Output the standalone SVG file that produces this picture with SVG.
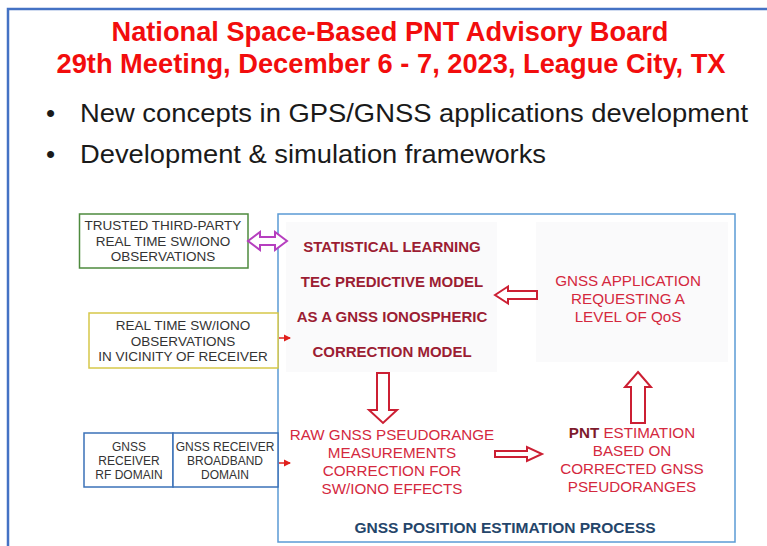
<svg xmlns="http://www.w3.org/2000/svg" width="767" height="546" viewBox="0 0 767 546">
<style>
.title{font-family:"Liberation Sans Narrow","Liberation Sans",Arial,sans-serif;font-weight:bold;font-size:28px;fill:#f20d0d;text-anchor:middle}
.bul{font-family:"Liberation Sans",Arial,sans-serif;font-size:26px;fill:#1a1a1a}
.box{font-family:"Liberation Sans",Arial,sans-serif;font-size:13.5px;fill:#333;text-anchor:middle}
.small{font-family:"Liberation Sans",Arial,sans-serif;font-size:12px;fill:#333;text-anchor:middle}
.stat{font-family:"Liberation Sans",Arial,sans-serif;font-size:15px;font-weight:bold;fill:#9c1d33;text-anchor:middle}
.red{font-family:"Liberation Sans",Arial,sans-serif;font-size:15.2px;fill:#d4283e;text-anchor:middle}
.proc{font-family:"Liberation Sans",Arial,sans-serif;font-size:15.5px;font-weight:bold;fill:#24456a;text-anchor:middle}
.arr{fill:#fff;stroke:#cc1f33;stroke-width:2;stroke-linejoin:miter}
.faint{fill:#fafafb}
</style>
<defs>
<marker id="tri" markerWidth="8" markerHeight="8" refX="6" refY="4" orient="auto" markerUnits="userSpaceOnUse">
<path d="M0,0.5 L7,4 L0,7.5 Z" fill="#e0201c"/>
</marker>
</defs>
<rect width="767" height="546" fill="#fff"/>
<path d="M8,546 L8,9 L767,9" fill="none" stroke="#4472c4" stroke-width="2.5"/>
<g id="title">
<text class="title" x="390" y="41" textLength="557" lengthAdjust="spacingAndGlyphs">National Space-Based PNT Advisory Board</text>
<text class="title" x="391" y="73" textLength="669" lengthAdjust="spacingAndGlyphs">29th Meeting, December 6 - 7, 2023, League City, TX</text>
</g>
<g id="bullets">
<text class="bul" x="46" y="122">•</text>
<text class="bul" x="80" y="122" textLength="668" lengthAdjust="spacingAndGlyphs">New concepts in GPS/GNSS applications development</text>
<text class="bul" x="46" y="163">•</text>
<text class="bul" x="80" y="163" textLength="466" lengthAdjust="spacingAndGlyphs">Development &amp; simulation frameworks</text>
</g>
<g id="process">
<rect x="278" y="214" width="457" height="328" fill="#fff" stroke="#5b9bd5" stroke-width="1.5"/>
<rect class="faint" x="286" y="222" width="211" height="150"/>
<rect class="faint" x="536" y="222" width="192" height="140"/>
<text class="proc" x="505" y="533">GNSS POSITION ESTIMATION PROCESS</text>
</g>
<g id="stat-model">
<text class="stat" x="392" y="252">STATISTICAL LEARNING</text>
<text class="stat" x="392" y="287">TEC PREDICTIVE MODEL</text>
<text class="stat" x="392" y="322">AS A GNSS IONOSPHERIC</text>
<text class="stat" x="392" y="357">CORRECTION MODEL</text>
</g>
<g id="application">
<text class="red" x="628" y="286">GNSS APPLICATION</text>
<text class="red" x="628" y="304">REQUESTING A</text>
<text class="red" x="628" y="322">LEVEL OF QoS</text>
</g>
<g id="raw-correction">
<text class="red" x="392" y="440">RAW GNSS PSEUDORANGE</text>
<text class="red" x="392" y="458">MEASUREMENTS</text>
<text class="red" x="392" y="476">CORRECTION FOR</text>
<text class="red" x="392" y="494">SW/IONO EFFECTS</text>
</g>
<g id="pnt-estimation">
<text class="red" x="632" y="438"><tspan font-weight="bold" fill="#7d1a2c">PNT</tspan> ESTIMATION</text>
<text class="red" x="632" y="456">BASED ON</text>
<text class="red" x="632" y="474">CORRECTED GNSS</text>
<text class="red" x="632" y="492">PSEUDORANGES</text>
</g>
<g id="trusted">
<rect x="79.5" y="214" width="168.5" height="54" fill="#fff" stroke="#4e8a3e" stroke-width="1.5"/>
<text class="box" x="163" y="230">TRUSTED THIRD-PARTY</text>
<text class="box" x="163" y="246">REAL TIME SW/IONO</text>
<text class="box" x="163" y="261">OBSERVATIONS</text>
</g>
<g id="vicinity">
<rect x="89" y="313" width="189" height="55" fill="#fff" stroke="#d6c84a" stroke-width="1.5"/>
<text class="box" x="183" y="330">REAL TIME SW/IONO</text>
<text class="box" x="183" y="346">OBSERVATIONS</text>
<text class="box" x="183" y="361">IN VICINITY OF RECEIVER</text>
</g>
<g id="rf-domain">
<rect x="84" y="433" width="89" height="54" fill="#fff" stroke="#3b72b8" stroke-width="1.5"/>
<text class="small" x="129" y="451">GNSS</text>
<text class="small" x="129" y="465">RECEIVER</text>
<text class="small" x="129" y="479">RF DOMAIN</text>
</g>
<g id="broadband-domain">
<rect x="173" y="433" width="105" height="54" fill="#fff" stroke="#3b72b8" stroke-width="1.5"/>
<text class="small" x="225" y="451">GNSS RECEIVER</text>
<text class="small" x="225" y="465">BROADBAND</text>
<text class="small" x="225" y="479">DOMAIN</text>
</g>
<g id="connectors">
<path d="M248,241 L260,232 L260,237 L275,237 L275,232 L287,241 L275,250 L275,245 L260,245 L260,250 Z" fill="#fff" stroke="#b63fbf" stroke-width="2"/>
<line x1="279" y1="338" x2="290" y2="338" stroke="#e0201c" stroke-width="1.5" marker-end="url(#tri)"/>
<line x1="279" y1="463" x2="290" y2="463" stroke="#e0201c" stroke-width="1.5" marker-end="url(#tri)"/>
<path class="arr" d="M495,295 L508,286.5 L508,291 L537,291 L537,299 L508,299 L508,303.5 Z"/>
<path class="arr" d="M377,373 L389,373 L389,410 L397,410 L383,423 L369,410 L377,410 Z"/>
<path class="arr" d="M495,451 L527,451 L527,447 L542,454 L527,461 L527,457 L495,457 Z"/>
<path class="arr" d="M638,372 L651,387 L645,387 L645,423 L631,423 L631,387 L625,387 Z"/>
</g>
</svg>
